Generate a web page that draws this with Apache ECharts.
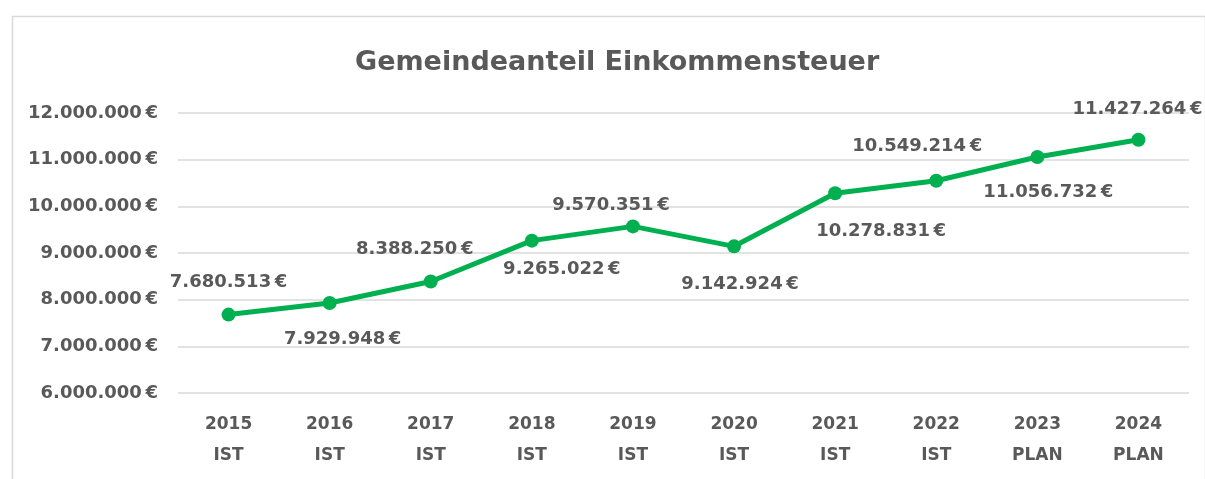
<!DOCTYPE html>
<html>
<head>
<meta charset="utf-8">
<script src="https://cdn.jsdelivr.net/npm/echarts@6/dist/echarts.min.js"></script>
<style>
html,body{margin:0;padding:0;background:#fff;}
#chart{width:1205px;height:479px;}
</style>
</head>
<body>
<div id="chart"></div>
<script>
const titleText = 'Gemeindeanteil Einkommensteuer';
const years = ['2015', '2016', '2017', '2018', '2019', '2020', '2021', '2022', '2023', '2024'];
const kinds = ['IST', 'IST', 'IST', 'IST', 'IST', 'IST', 'IST', 'IST', 'PLAN', 'PLAN'];
const values = [7680513, 7929948, 8388250, 9265022, 9570351, 9142924, 10278831, 10549214, 11056732, 11427264];

// label placement (style only)
const labelSides = ['top', 'bottom', 'top', 'bottom', 'top', 'bottom', 'bottom', 'top', 'bottom', 'top'];
const labelShifts = [[0, 0], [13, 4], [-16, 0], [30, -3], [-22, 11], [6, 6], [46, 6], [-19, -2], [11, 3], [-1, 2]];

const categories = years.map((y, i) => y + '\n' + kinds[i]);
function fmt(v) {
  return String(Math.round(v)).replace(/\B(?=(\d{3})+(?!\d))/g, '.') + '\u2009€';
}
const font = '"DejaVu Sans", sans-serif';
const grey = '#595959';

const chart = echarts.init(document.getElementById('chart'));
chart.setOption({
  animation: false,
  backgroundColor: '#fff',
  graphic: [{
    type: 'rect', left: 10, top: 14,
    shape: { width: 1193, height: 480 },
    style: { fill: 'none', stroke: '#d9d9d9', lineWidth: 1.5 },
    silent: true
  }],
  title: {
    text: titleText, left: 350, top: 44,
    textStyle: { fontFamily: font, fontWeight: 'bold', fontSize: 27, color: grey }
  },
  grid: { left: 178, right: 16, top: 113, bottom: 86, containLabel: false },
  xAxis: {
    type: 'category', data: categories, boundaryGap: true,
    axisLine: { show: false }, axisTick: { show: false },
    axisLabel: { fontFamily: font, fontWeight: 'bold', fontSize: 17, color: grey, lineHeight: 31, margin: 16 }
  },
  yAxis: {
    type: 'value', min: 6000000, max: 12000000, interval: 1000000,
    axisLine: { show: false }, axisTick: { show: false },
    splitLine: { lineStyle: { color: '#d9d9d9', width: 1.5 } },
    axisLabel: { fontFamily: font, fontWeight: 'bold', fontSize: 18, color: grey, margin: 20, formatter: fmt }
  },
  series: [{
    type: 'line',
    data: values.map((v, i) => ({
      value: v,
      label: { position: labelSides[i], offset: labelShifts[i] }
    })),
    lineStyle: { color: '#00B050', width: 5 },
    itemStyle: { color: '#00B050' },
    symbol: 'circle', symbolSize: 14,
    label: {
      show: true, distance: 16, formatter: p => fmt(p.value),
      fontFamily: font, fontWeight: 'bold', fontSize: 18, color: grey
    }
  }]
});
</script>
</body>
</html>
